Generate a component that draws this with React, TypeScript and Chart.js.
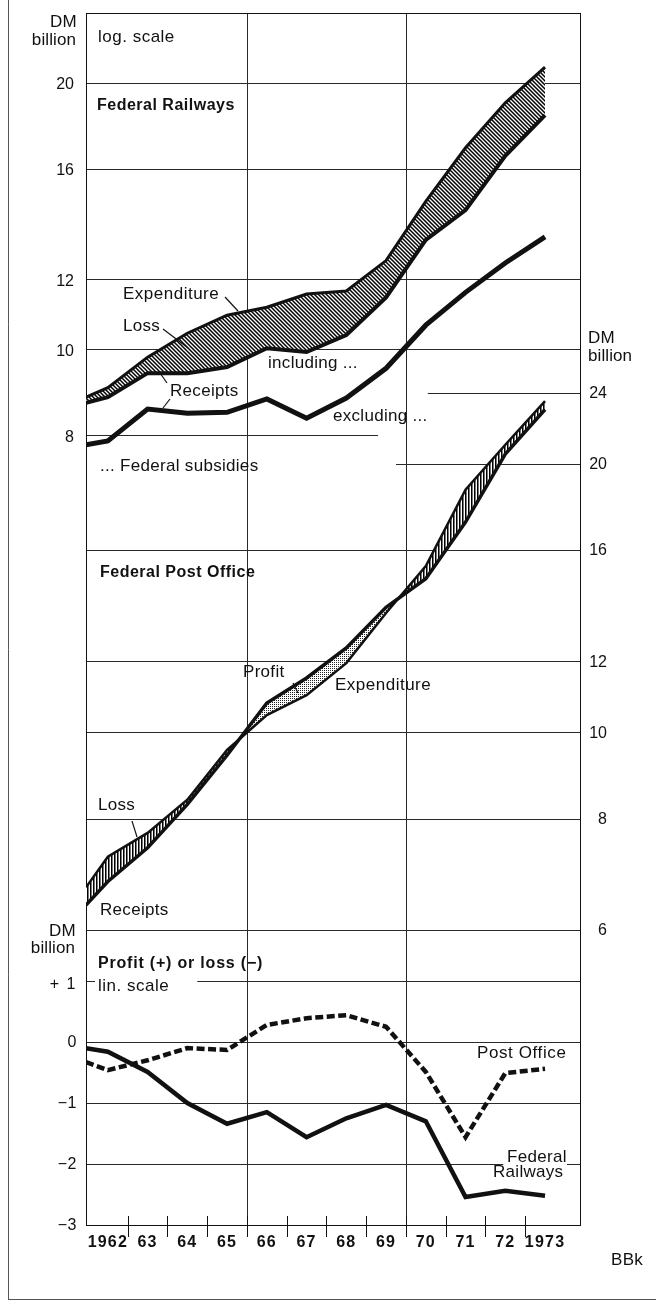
import { useEffect, useRef } from "react";
import { Chart, registerables } from "chart.js";

Chart.register(...registerables);

// ---------- data ----------
// first x entry = left edge of the plot, where every line starts
const years = [1961.45, 1962, 1963, 1964, 1965, 1966, 1967, 1968, 1969, 1970, 1971, 1972, 1973];
const labelYears = [1962, 1963, 1964, 1965, 1966, 1967, 1968, 1969, 1970, 1971, 1972, 1973];
const yearLabels = ["1962", "63", "64", "65", "66", "67", "68", "69", "70", "71", "72", "1973"];
const yearTicks = [1962.5, 1963.5, 1964.5, 1965.5, 1966.5, 1967.5, 1968.5, 1969.5, 1970.5, 1971.5, 1972.5];
const yearGrid = [1965.5, 1969.5];

// Federal Railways, DM billion (log scale, left axis)
const railExpenditure = [8.83, 9.05, 9.8, 10.43, 10.93, 11.16, 11.55, 11.64, 12.6, 14.7, 16.9, 19.0, 20.85];
const railReceiptsIncl = [8.7, 8.83, 9.4, 9.4, 9.55, 10.03, 9.93, 10.38, 11.45, 13.3, 14.37, 16.55, 18.4];
const railReceiptsExcl = [7.8, 7.88, 8.56, 8.47, 8.49, 8.79, 8.36, 8.81, 9.52, 10.65, 11.6, 12.52, 13.4];

// Federal Post Office, DM billion (log scale, right axis)
const postExpenditure = [6.7, 7.25, 7.71, 8.4, 9.55, 10.45, 11.0, 11.95, 13.6, 15.35, 18.7, 21.0, 23.5];
const postReceipts = [6.4, 6.8, 7.42, 8.3, 9.42, 10.78, 11.5, 12.43, 13.8, 14.86, 17.2, 20.5, 23.0];

// Profit (+) or loss (-), DM billion (linear scale)
const railProfitLoss = [-0.1, -0.16, -0.49, -1.0, -1.34, -1.15, -1.56, -1.25, -1.03, -1.3, -2.54, -2.44, -2.52];
const postProfitLoss = [-0.33, -0.46, -0.3, -0.1, -0.13, 0.28, 0.39, 0.44, 0.25, -0.49, -1.56, -0.51, -0.44];

const railTicks = [8, 10, 12, 16, 20];
const postTicks = [6, 8, 10, 12, 16, 20, 24];
const linTicks = [-3, -2, -1, 0, 1];
const linTickLabels = ["\u22123", "\u22122", "\u22121", "0", "+ 1"];

// ---------- styles ----------
const INK = "#111";
const GRID = "#2a2a2a";
const FAM = '"Liberation Sans", Arial, sans-serif';
const REG = `17px ${FAM}`;
const BOLD = `bold 16px ${FAM}`;
const NUM = `16px ${FAM}`;
const YEAR = `bold 16px ${FAM}`;

const pts = (vals: number[]) => years.map((x, i) => ({ x, y: vals[i] }));

function makePattern(w: number, h: number, draw: (g: CanvasRenderingContext2D) => void) {
  const c = document.createElement("canvas");
  c.width = w;
  c.height = h;
  const g = c.getContext("2d")!;
  g.fillStyle = "#fff";
  g.fillRect(0, 0, w, h);
  draw(g);
  return g.createPattern(c, "repeat")!;
}

function text(
  ctx: CanvasRenderingContext2D,
  s: string,
  x: number,
  y: number,
  font: string,
  align: CanvasTextAlign = "left",
  spacing = 0,
  baseline: CanvasTextBaseline = "alphabetic"
) {
  ctx.font = font;
  ctx.textAlign = align;
  ctx.textBaseline = baseline;
  (ctx as any).letterSpacing = `${spacing}px`;
  ctx.fillStyle = INK;
  ctx.fillText(s, x, y);
  (ctx as any).letterSpacing = "0px";
}

function seg(ctx: CanvasRenderingContext2D, x0: number, y0: number, x1: number, y1: number) {
  ctx.beginPath();
  ctx.moveTo(x0, y0);
  ctx.lineTo(x1, y1);
  ctx.stroke();
}

const decor = {
  id: "decor",
  beforeDatasetsDraw(chart: any) {
    const ctx: CanvasRenderingContext2D = chart.ctx;
    const { left, right, top, bottom } = chart.chartArea;
    const sx = chart.scales.x;
    const yR = chart.scales.yR;
    const yP = chart.scales.yP;
    const yL = chart.scales.yL;
    const X = (v: number) => sx.getPixelForValue(v);
    const h = (py: number, x0: number, x1: number) => {
      const y = Math.round(py) + 0.5;
      seg(ctx, x0, y, x1, y);
    };
    ctx.save();
    ctx.strokeStyle = GRID;
    ctx.lineWidth = 1;
    railTicks.forEach((v) => {
      const py = yR.getPixelForValue(v);
      if (v === 8) h(py, left, X(1968.8));
      else h(py, left, right);
    });
    postTicks.forEach((v) => {
      const py = yP.getPixelForValue(v);
      if (v === 24) h(py, X(1970.05), right);
      else if (v === 20) h(py, X(1969.25), right);
      else h(py, left, right);
    });
    linTicks.forEach((v) => {
      const py = yL.getPixelForValue(v);
      if (v === 1) {
        h(py, left, left + 9);
        h(py, X(1964.25), right);
      } else if (v === -2) {
        h(py, left, X(1971.95));
        h(py, X(1973.55), right);
      } else if (v !== -3) h(py, left, right);
    });
    yearGrid.forEach((v) => {
      const px = Math.round(X(v)) + 0.5;
      seg(ctx, px, top, px, bottom);
    });
    // frame of the plot
    ctx.strokeStyle = INK;
    ctx.strokeRect(Math.round(left) + 0.5, Math.round(top) + 0.5, Math.round(right - left), Math.round(bottom - top));
    // year ticks crossing the axis
    yearTicks.forEach((v) => {
      const px = Math.round(X(v)) + 0.5;
      seg(ctx, px, bottom - 9, px, bottom + 12);
    });
    ctx.restore();
  },
  afterDatasetsDraw(chart: any) {
    const ctx: CanvasRenderingContext2D = chart.ctx;
    const { left, right } = chart.chartArea;
    const sx = chart.scales.x;
    const yR = chart.scales.yR;
    const yP = chart.scales.yP;
    const yL = chart.scales.yL;
    ctx.save();
    // left axis (railways)
    text(ctx, "DM", left - 9, 27, REG, "right", 0.3);
    text(ctx, "billion", left - 10, 45, REG, "right", 0.1);
    railTicks.forEach((v) => text(ctx, String(v), left - 12, yR.getPixelForValue(v) + 2, NUM, "right", 0, "middle"));
    // right axis (post office)
    text(ctx, "DM", right + 8, 343, REG, "left", 0.3);
    text(ctx, "billion", right + 8, 361, REG, "left", 0.1);
    postTicks.forEach((v) => text(ctx, String(v), right + 27, yP.getPixelForValue(v) + 1, NUM, "right", 0, "middle"));
    // linear axis
    text(ctx, "DM", left - 10, 936, REG, "right", 0.3);
    text(ctx, "billion", left - 11, 953, REG, "right", 0.1);
    linTicks.forEach((v, i) =>
      text(ctx, linTickLabels[i], left - 9, yL.getPixelForValue(v) + (v === 1 ? 4 : 1), NUM, "right", v === 1 ? 1.5 : 0.5, "middle")
    );
    // x axis labels
    labelYears.forEach((v, i) => text(ctx, yearLabels[i], sx.getPixelForValue(v), 1247, YEAR, "center", 1.2));

    // titles and annotations
    text(ctx, "log. scale", 98, 42, REG, "left", 0.5);
    text(ctx, "Federal Railways", 97, 110, BOLD, "left", 0.5);
    text(ctx, "Expenditure", 123, 299, REG, "left", 0.5);
    text(ctx, "Loss", 123, 331, REG, "left", 0.3);
    text(ctx, "Receipts", 170, 396, REG, "left", 0.3);
    text(ctx, "including ...", 268, 368, REG, "left", 0.3);
    text(ctx, "excluding ...", 333, 421, REG, "left", 0.3);
    text(ctx, "... Federal subsidies", 100, 471, REG, "left", 0.3);
    text(ctx, "Federal Post Office", 100, 577, BOLD, "left", 0.5);
    text(ctx, "Profit", 243, 677, REG, "left", 0.3);
    text(ctx, "Expenditure", 335, 690, REG, "left", 0.5);
    text(ctx, "Loss", 98, 810, REG, "left", 0.3);
    text(ctx, "Receipts", 100, 915, REG, "left", 0.3);
    text(ctx, "Profit (+) or loss (\u2212)", 98, 968, BOLD, "left", 0.8);
    text(ctx, "lin. scale", 98, 991, REG, "left", 0.5);
    text(ctx, "Post Office", 477, 1058, REG, "left", 0.6);
    text(ctx, "Federal", 507, 1162, REG, "left", 0.3);
    text(ctx, "Railways", 493, 1177, REG, "left", 0.3);
    text(ctx, "BBk", 611, 1265, REG, "left", 0.3);

    // leader lines
    ctx.strokeStyle = INK;
    ctx.lineWidth = 1.2;
    seg(ctx, 225, 297, 238, 311);
    seg(ctx, 163, 329, 188, 348);
    seg(ctx, 160, 373, 167, 383);
    seg(ctx, 163, 408, 170, 399);
    seg(ctx, 293, 683, 298, 693);
    seg(ctx, 132, 821, 137, 837);

    // outer frame of the page
    ctx.strokeStyle = "#555";
    ctx.lineWidth = 1;
    seg(ctx, 8.5, 0, 8.5, 1299);
    seg(ctx, 8, 1299.5, 656, 1299.5);
    ctx.restore();
  },
};

export default function App() {
  const ref = useRef<HTMLCanvasElement>(null);

  useEffect(() => {
    const canvas = ref.current!;
    const diagHatch = makePattern(4, 4, (g) => {
      g.strokeStyle = "#000";
      g.lineWidth = 1.5;
      g.beginPath();
      g.moveTo(0, 0);
      g.lineTo(4, 4);
      g.moveTo(-1, 3);
      g.lineTo(1, 5);
      g.moveTo(3, -1);
      g.lineTo(5, 1);
      g.stroke();
    });
    const vertHatch = makePattern(3, 3, (g) => {
      g.fillStyle = "#000";
      g.fillRect(0, 0, 1, 3);
      g.fillStyle = "#777";
      g.fillRect(1, 0, 1, 3);
    });
    const dots = makePattern(2, 2, (g) => {
      g.fillStyle = "#222";
      g.fillRect(0, 0, 1, 1);
    });

    const line = (data: number[], yAxisID: string, width: number, extra: any = {}) => ({
      data: pts(data),
      yAxisID,
      borderColor: INK,
      borderWidth: width,
      pointRadius: 0,
      pointHoverRadius: 0,
      tension: 0,
      fill: false,
      borderCapStyle: "butt",
      borderJoinStyle: "miter",
      ...extra,
    });

    const chart = new Chart(canvas, {
      type: "line",
      data: {
        datasets: [
          line(railExpenditure, "yR", 3),
          line(railReceiptsIncl, "yR", 4, { fill: 0, backgroundColor: diagHatch }),
          line(railReceiptsExcl, "yR", 5),
          line(postExpenditure, "yP", 2.5),
          line(postReceipts, "yP", 3.5, { fill: { target: 3, above: dots, below: vertHatch } }),
          line(railProfitLoss, "yL", 4.5),
          line(postProfitLoss, "yL", 4.5, { borderDash: [8, 3.5] }),
        ] as any,
      },
      options: {
        animation: false,
        responsive: false,
        devicePixelRatio: 1,
        events: [],
        layout: { padding: { left: 86, right: 76, top: 13, bottom: 80 } },
        plugins: { legend: { display: false }, tooltip: { enabled: false } },
        scales: {
          x: { type: "linear", min: 1961.45, max: 1973.88, display: false },
          yR: { type: "logarithmic", min: 1.024, max: 24.0, bounds: "data", display: false },
          yP: { type: "logarithmic", min: 2.802, max: 64.0, bounds: "data", display: false },
          yL: { type: "linear", min: -3, max: 16.87, bounds: "data", display: false },
        },
      } as any,
      plugins: [decor],
    });
    return () => chart.destroy();
  }, []);

  return (
    <div style={{ position: "absolute", left: 0, top: 0, width: 656, height: 1305, background: "#fff" }}>
      <canvas ref={ref} width={656} height={1305} style={{ display: "block", width: 656, height: 1305 }} />
    </div>
  );
}
